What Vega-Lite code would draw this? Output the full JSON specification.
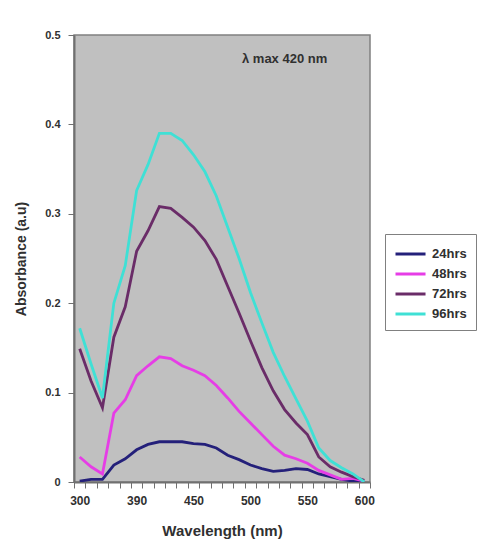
{
  "$schema": "https://vega.github.io/schema/vega-lite/v6.json",
  "width": 296,
  "height": 447,
  "autosize": "none",
  "padding": {"left": 74, "top": 35, "right": 111, "bottom": 62},
  "background": "white",
  "config": {
    "view": {"fill": "#c0c0c0", "stroke": "#808080", "strokeWidth": 1.5},
    "font": "Liberation Sans",
    "axis": {
      "domainColor": "#707070",
      "domainWidth": 2,
      "tickColor": "#707070",
      "tickSize": 6,
      "grid": false,
      "labelFont": "Liberation Sans",
      "labelFontWeight": "bold",
      "labelColor": "#303030",
      "titleFont": "Liberation Sans",
      "titleFontWeight": "bold",
      "titleColor": "#303030"
    },
    "legend": {
      "labelFont": "Liberation Sans",
      "labelFontWeight": "bold",
      "labelFontSize": 13,
      "labelColor": "#303030"
    }
  },
  "layer": [
    {
      "data": {
        "values": [
          {"wl": 300, "series": "24hrs", "abs": 0.001}, {"wl": 318, "series": "24hrs", "abs": 0.003}, {"wl": 336, "series": "24hrs", "abs": 0.003}, {"wl": 354, "series": "24hrs", "abs": 0.019}, {"wl": 372, "series": "24hrs", "abs": 0.026}, {"wl": 390, "series": "24hrs", "abs": 0.036}, {"wl": 402, "series": "24hrs", "abs": 0.042}, {"wl": 414, "series": "24hrs", "abs": 0.045}, {"wl": 426, "series": "24hrs", "abs": 0.045}, {"wl": 438, "series": "24hrs", "abs": 0.045}, {"wl": 450, "series": "24hrs", "abs": 0.043}, {"wl": 460, "series": "24hrs", "abs": 0.042}, {"wl": 470, "series": "24hrs", "abs": 0.038}, {"wl": 480, "series": "24hrs", "abs": 0.030}, {"wl": 490, "series": "24hrs", "abs": 0.025}, {"wl": 500, "series": "24hrs", "abs": 0.019}, {"wl": 510, "series": "24hrs", "abs": 0.015}, {"wl": 520, "series": "24hrs", "abs": 0.012}, {"wl": 530, "series": "24hrs", "abs": 0.013}, {"wl": 540, "series": "24hrs", "abs": 0.015}, {"wl": 550, "series": "24hrs", "abs": 0.014}, {"wl": 560, "series": "24hrs", "abs": 0.009}, {"wl": 570, "series": "24hrs", "abs": 0.006}, {"wl": 580, "series": "24hrs", "abs": 0.003}, {"wl": 590, "series": "24hrs", "abs": 0.001}, {"wl": 600, "series": "24hrs", "abs": 0.0},
          {"wl": 300, "series": "48hrs", "abs": 0.028}, {"wl": 318, "series": "48hrs", "abs": 0.017}, {"wl": 336, "series": "48hrs", "abs": 0.009}, {"wl": 354, "series": "48hrs", "abs": 0.077}, {"wl": 372, "series": "48hrs", "abs": 0.092}, {"wl": 390, "series": "48hrs", "abs": 0.119}, {"wl": 402, "series": "48hrs", "abs": 0.130}, {"wl": 414, "series": "48hrs", "abs": 0.140}, {"wl": 426, "series": "48hrs", "abs": 0.138}, {"wl": 438, "series": "48hrs", "abs": 0.130}, {"wl": 450, "series": "48hrs", "abs": 0.125}, {"wl": 460, "series": "48hrs", "abs": 0.119}, {"wl": 470, "series": "48hrs", "abs": 0.108}, {"wl": 480, "series": "48hrs", "abs": 0.094}, {"wl": 490, "series": "48hrs", "abs": 0.079}, {"wl": 500, "series": "48hrs", "abs": 0.066}, {"wl": 510, "series": "48hrs", "abs": 0.053}, {"wl": 520, "series": "48hrs", "abs": 0.040}, {"wl": 530, "series": "48hrs", "abs": 0.030}, {"wl": 540, "series": "48hrs", "abs": 0.026}, {"wl": 550, "series": "48hrs", "abs": 0.021}, {"wl": 560, "series": "48hrs", "abs": 0.013}, {"wl": 570, "series": "48hrs", "abs": 0.008}, {"wl": 580, "series": "48hrs", "abs": 0.003}, {"wl": 590, "series": "48hrs", "abs": 0.004}, {"wl": 600, "series": "48hrs", "abs": 0.001},
          {"wl": 300, "series": "72hrs", "abs": 0.149}, {"wl": 318, "series": "72hrs", "abs": 0.113}, {"wl": 336, "series": "72hrs", "abs": 0.083}, {"wl": 354, "series": "72hrs", "abs": 0.162}, {"wl": 372, "series": "72hrs", "abs": 0.196}, {"wl": 390, "series": "72hrs", "abs": 0.258}, {"wl": 402, "series": "72hrs", "abs": 0.281}, {"wl": 414, "series": "72hrs", "abs": 0.308}, {"wl": 426, "series": "72hrs", "abs": 0.306}, {"wl": 438, "series": "72hrs", "abs": 0.296}, {"wl": 450, "series": "72hrs", "abs": 0.285}, {"wl": 460, "series": "72hrs", "abs": 0.270}, {"wl": 470, "series": "72hrs", "abs": 0.249}, {"wl": 480, "series": "72hrs", "abs": 0.219}, {"wl": 490, "series": "72hrs", "abs": 0.189}, {"wl": 500, "series": "72hrs", "abs": 0.158}, {"wl": 510, "series": "72hrs", "abs": 0.128}, {"wl": 520, "series": "72hrs", "abs": 0.102}, {"wl": 530, "series": "72hrs", "abs": 0.081}, {"wl": 540, "series": "72hrs", "abs": 0.066}, {"wl": 550, "series": "72hrs", "abs": 0.053}, {"wl": 560, "series": "72hrs", "abs": 0.028}, {"wl": 570, "series": "72hrs", "abs": 0.017}, {"wl": 580, "series": "72hrs", "abs": 0.011}, {"wl": 590, "series": "72hrs", "abs": 0.006}, {"wl": 600, "series": "72hrs", "abs": 0.002},
          {"wl": 300, "series": "96hrs", "abs": 0.172}, {"wl": 318, "series": "96hrs", "abs": 0.132}, {"wl": 336, "series": "96hrs", "abs": 0.094}, {"wl": 354, "series": "96hrs", "abs": 0.200}, {"wl": 372, "series": "96hrs", "abs": 0.242}, {"wl": 390, "series": "96hrs", "abs": 0.326}, {"wl": 402, "series": "96hrs", "abs": 0.355}, {"wl": 414, "series": "96hrs", "abs": 0.390}, {"wl": 426, "series": "96hrs", "abs": 0.390}, {"wl": 438, "series": "96hrs", "abs": 0.382}, {"wl": 450, "series": "96hrs", "abs": 0.366}, {"wl": 460, "series": "96hrs", "abs": 0.347}, {"wl": 470, "series": "96hrs", "abs": 0.320}, {"wl": 480, "series": "96hrs", "abs": 0.285}, {"wl": 490, "series": "96hrs", "abs": 0.250}, {"wl": 500, "series": "96hrs", "abs": 0.212}, {"wl": 510, "series": "96hrs", "abs": 0.178}, {"wl": 520, "series": "96hrs", "abs": 0.145}, {"wl": 530, "series": "96hrs", "abs": 0.118}, {"wl": 540, "series": "96hrs", "abs": 0.093}, {"wl": 550, "series": "96hrs", "abs": 0.068}, {"wl": 560, "series": "96hrs", "abs": 0.038}, {"wl": 570, "series": "96hrs", "abs": 0.024}, {"wl": 580, "series": "96hrs", "abs": 0.016}, {"wl": 590, "series": "96hrs", "abs": 0.009}, {"wl": 600, "series": "96hrs", "abs": 0.0}
        ]
      },
      "mark": {"type": "line", "strokeWidth": 2.8, "clip": true},
      "encoding": {
        "x": {
          "field": "wl",
          "type": "ordinal",
          "bandPosition": 0.5,
          "scale": {"type": "band", "paddingInner": 0, "paddingOuter": 0},
          "axis": {
            "title": "Wavelength (nm)",
            "titleFontSize": 15,
            "titlePadding": 17,
            "labelFontSize": 12,
            "labelAngle": 0,
            "labelPadding": 7,
            "tickBand": "extent",
            "labelExpr": "(datum.value == 300 || datum.value == 390 || datum.value == 450 || datum.value == 500 || datum.value == 550 || datum.value == 600) ? datum.label : ''"
          }
        },
        "y": {
          "field": "abs",
          "type": "quantitative",
          "scale": {"domain": [0, 0.5], "nice": false},
          "axis": {
            "title": "Absorbance (a.u)",
            "titleFontSize": 14,
            "titlePadding": 16,
            "labelFontSize": 11,
            "labelPadding": 8,
            "values": [0, 0.1, 0.2, 0.3, 0.4, 0.5],
            "labelExpr": "datum.value == 0 ? '0' : format(datum.value, '.1f')"
          }
        },
        "color": {
          "field": "series",
          "type": "nominal",
          "scale": {
            "domain": ["24hrs", "48hrs", "72hrs", "96hrs"],
            "range": ["#24207a", "#e63de6", "#6a2c68", "#3fe0d5"]
          },
          "legend": {
            "title": null,
            "orient": "none",
            "legendX": 311,
            "legendY": 199,
            "symbolType": "M-1,0H2.16",
            "symbolSize": 361,
            "symbolStrokeWidth": 3,
            "rowPadding": 2,
            "strokeColor": "#808080",
            "fillColor": "white",
            "padding": 9,
            "labelOffset": 16
          }
        }
      }
    },
    {
      "data": {"values": [{"wl": 530, "abs": 0.473, "label": "λ max 420 nm"}]},
      "mark": {"type": "text", "font": "Liberation Sans", "fontWeight": "bold", "fontSize": 13, "color": "#303030"},
      "encoding": {
        "x": {"field": "wl", "type": "ordinal", "bandPosition": 0.5},
        "y": {"field": "abs", "type": "quantitative"},
        "text": {"field": "label"}
      }
    }
  ]
}
